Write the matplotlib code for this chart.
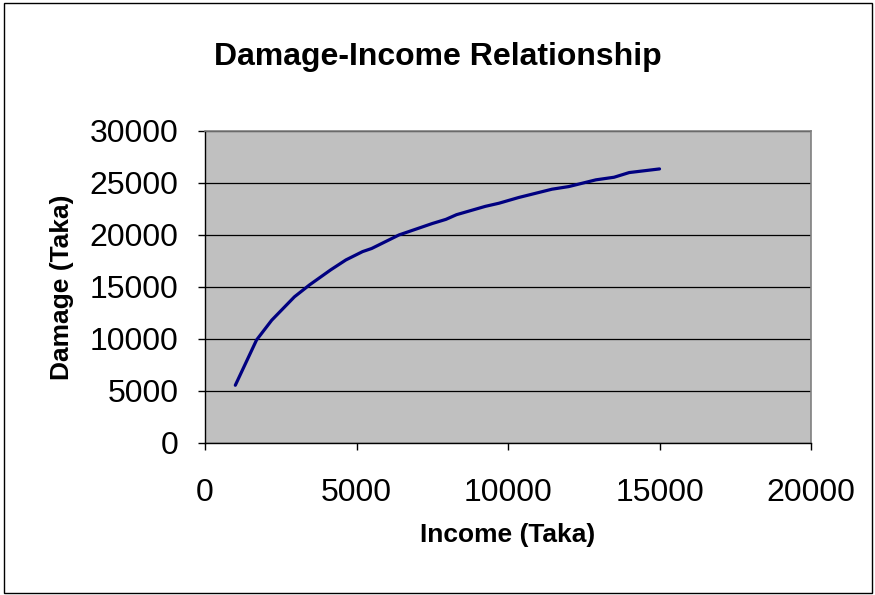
import matplotlib
matplotlib.use("Agg")
import matplotlib.pyplot as plt
from matplotlib.patches import Rectangle

# values
income = [1000, 1700, 2200, 2950, 3450, 4150, 4650, 5200, 5500, 6400,
          7500, 7950, 8300, 9250, 9700, 10350, 11450, 12000, 12900,
          13500, 14000, 15000]
damage = [5550, 9900, 11800, 14050, 15200, 16650, 17600, 18400, 18700, 20000,
          21100, 21500, 21950, 22750, 23050, 23600, 24400, 24650, 25300,
          25550, 26000, 26350]

x_ticks = [0, 5000, 10000, 15000, 20000]
y_ticks = [0, 5000, 10000, 15000, 20000, 25000, 30000]

plt.rcParams['font.family'] = ['Liberation Sans', 'DejaVu Sans']

fig = plt.figure(figsize=(8.75, 5.95), dpi=100)
ax = fig.add_axes([0.2343, 0.2555, 0.6926, 0.5244])
ax.set_facecolor('#c0c0c0')

ax.plot(income, damage, color='#000080', lw=2.3, solid_capstyle='round')

ax.set_xlim(0, 20000)
ax.set_ylim(0, 30000)
ax.set_xticks(x_ticks)
ax.set_yticks(y_ticks)
ax.set_xticklabels([str(t) for t in x_ticks])
ax.set_yticklabels([str(t) for t in y_ticks])
ax.tick_params(axis='x', direction='out', length=5, width=1, labelsize=23, pad=20)
ax.tick_params(axis='y', direction='out', length=5, width=1, labelsize=23, pad=14)

ax.yaxis.grid(True, color='black', lw=0.9)
ax.set_axisbelow(True)
for s in ['top', 'right']:
    ax.spines[s].set_color('#808080')
    ax.spines[s].set_linewidth(1.2)
for s in ['left', 'bottom']:
    ax.spines[s].set_color('black')
    ax.spines[s].set_linewidth(1)

ax.set_xlabel('Income (Taka)', fontsize=19, fontweight='bold', labelpad=11)
ax.set_ylabel('Damage (Taka)', fontsize=19, fontweight='bold', labelpad=11)

fig.text(0.501, 0.905, 'Damage-Income Relationship', ha='center', va='center',
         fontsize=23, fontweight='bold')

# outer chart border
fig.patches.append(Rectangle((0.005, 0.003), 0.992, 0.992, transform=fig.transFigure,
                             fill=False, edgecolor='black', lw=1))

fig.savefig('out.png', dpi=100, facecolor='white')
